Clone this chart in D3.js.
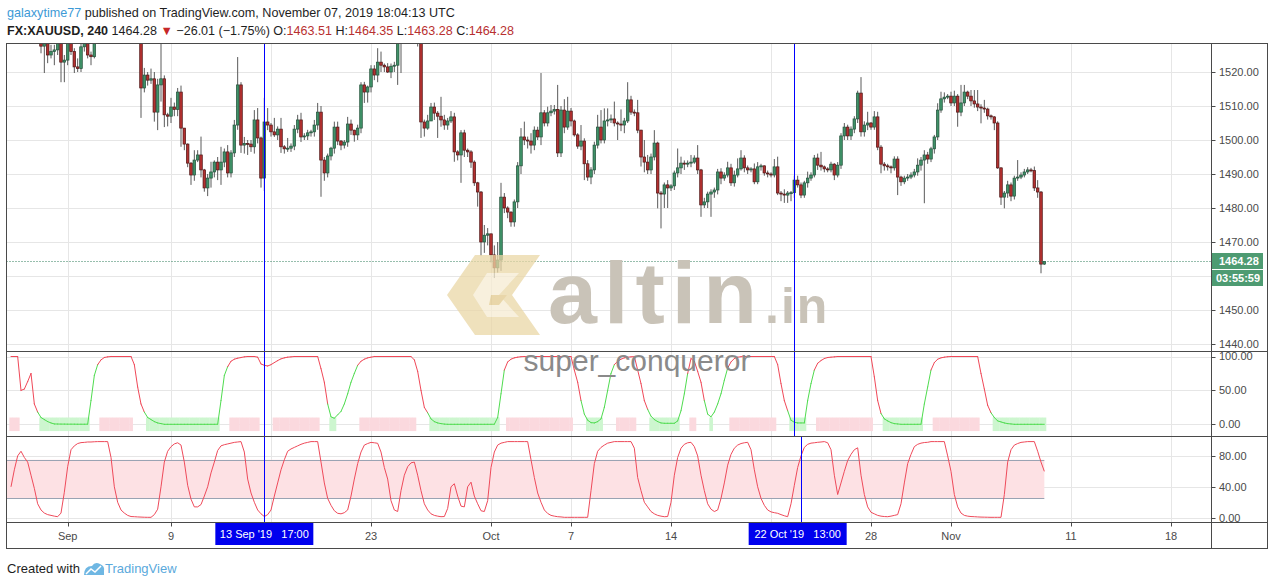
<!DOCTYPE html>
<html><head><meta charset="utf-8">
<script src="https://cdn.jsdelivr.net/npm/d3@7"></script>
<style>
html,body{margin:0;padding:0;background:#fff;}
svg{display:block;font-family:"Liberation Sans",Arial,sans-serif;}
</style></head><body>
<svg id="c" width="1274" height="586"></svg>
<script>
// ---------------- DATA ----------------
const firstOpen = 1543;
const closes = [1545,1542,1546,1543,1540,1538,1536,1534,1533,1527.6,1529,1525,1526,1526.5,1529,1522.9,1523.5,1530,1526,1521.5,
1521,1527.4,1530,1525,1524.5,1530,1535,1540,1546,1550,1548,1552,1550,1547,1545,1548,1544,1540,1537,1515.3,
1519.1,1517.6,1518,1508.2,1516.2,1518,1507.4,1507,1509.7,1509,1514.1,1503.5,1498.8,1493.2,1489.7,1494.1,1495.6,1491.2,1485.9,1488.8,
1490.6,1493.5,1491.2,1493.5,1496.5,1490.3,1496.2,1504.4,1516.2,1498.5,1499,1498.8,1498,1505.9,1500.6,1488.8,1505.3,1504.4,1502.4,1501.5,
1503.2,1498,1497.4,1497.6,1498.2,1503.2,1505.9,1500.9,1501.2,1502.1,1502.4,1504.4,1508.2,1494.1,1490.3,1495.3,1497.6,1503.8,1499.7,1498.5,
1499.4,1504.7,1502.9,1501.5,1503.5,1516.2,1514.1,1515.6,1520.9,1519.1,1522.9,1522,1521.5,1520,1521.7,1522,1529,1535,1533,1535,
1538,1534,1528.5,1505.3,1503.5,1505.6,1509.7,1507.9,1507,1505.9,1504.4,1505.6,1506.8,1496.5,1495.6,1502.1,1497,1496.5,1493.5,1487.4,
1484.7,1470,1472,1472.4,1466.2,1462.4,1464.7,1483.2,1480,1478.8,1475.9,1481.8,1492.4,1500.9,1500,1499.7,1498.5,1502.9,1500.9,1508,
1505,1508,1508.5,1509,1496.2,1508.8,1503.8,1508.5,1505.6,1501.5,1498.2,1499.7,1493,1489.1,1491.2,1498.5,1503.8,1500,1505.6,1505.9,
1506.2,1505,1504.7,1504.4,1505.6,1511.8,1508.2,1508,1502.9,1495,1493.5,1491.2,1495,1499.1,1484.4,1484.1,1486.8,1485.9,1486.5,1490.3,
1491.8,1493.2,1492.9,1493.2,1493.5,1494.7,1491.2,1480.9,1481.8,1484.1,1484.7,1485.3,1490.6,1488.8,1489.7,1491.8,1487.4,1489.7,1491.5,1494.7,
1491.8,1491.2,1491.5,1487.7,1492.1,1492.4,1490.3,1490,1489.7,1492.1,1484.4,1484.1,1483.8,1484.4,1484.5,1488.2,1486.8,1483.8,1487.4,1488.8,
1489.7,1494.7,1492.6,1492.1,1491.5,1491.2,1492.9,1489.7,1492.6,1501.2,1503.8,1501.2,1503.2,1506.2,1513.8,1502.4,1504.4,1505,1503.8,1506.8,
1497.9,1492.9,1492.4,1492.1,1491.8,1494.4,1489.1,1487.7,1488.8,1489.1,1489.7,1490.6,1492.6,1494.1,1495.6,1494.4,1497.4,1500.9,1508.8,1512.1,
1512.6,1512.9,1510.9,1512.9,1508.2,1510.9,1514.1,1512.9,1511.5,1510.6,1509.7,1509.4,1509.1,1507.1,1506.8,1505,1491.8,1483.2,1484.4,1486.8,
1483.5,1488.8,1489.1,1489.7,1490.6,1491.2,1491,1485.9,1484.7,1463.5,1464.28];
const highs = [1548,1547,1549,1548,1545,1543,1541,1538,1537,1533,1533,1530,1528,1528,1532,1531,1525,1533,1532,1527,
1524,1529,1534,1532,1526,1534,1538,1543,1549,1553,1552,1556,1555,1552,1549,1551,1549,1545,1542,1540,
1521.2,1520,1521,1520,1518,1531,1519,1508,1512.4,1511,1515.3,1516,1503.5,1499,1493.5,1497,1497,1501,1491.5,1490,
1493.6,1494,1495,1498,1497.5,1498.5,1497,1505.9,1524.4,1517,1500.9,1500,1500,1508.8,1509.4,1501,1512.4,1509.4,1505,1506.5,
1504,1506.5,1498.5,1500.6,1499,1504.4,1507.4,1508,1502,1503,1503,1505.9,1510.9,1510,1495,1496,1498,1505.4,1505.4,1500,
1500,1506.8,1506,1503,1504.5,1517,1517.1,1516,1522,1522,1527,1526,1522.5,1522.6,1522.5,1523,1532,1538,1536,1538,
1541,1539,1536,1531,1506,1507.4,1510.9,1511,1508.5,1512.7,1507.4,1506.5,1508.5,1508,1497,1502.9,1503,1497.5,1497,1494,
1487.7,1485,1475,1474.1,1471.5,1469,1470,1487.4,1484.4,1480.5,1479,1482.5,1493.5,1503.5,1505.4,1501,1502,1504,1503.9,1519.7,
1508.8,1509.8,1510.3,1510.3,1516.2,1510,1512,1512.7,1509.4,1506,1502,1504.4,1500.5,1494.1,1492,1499.5,1507.4,1508.8,1509.3,1509.3,
1507.5,1511.3,1505.5,1509,1506.5,1517,1513,1509,1511.8,1503,1500,1495.6,1496,1502.9,1499.5,1485,1487.5,1488.2,1487,1491,
1497.5,1495.1,1494,1494,1495.6,1495.5,1498.5,1491.5,1483,1484.8,1485.5,1486,1491.5,1491.7,1490.5,1493.6,1493,1491,1494.6,1497,
1495.5,1492.5,1492,1493.1,1493.5,1493,1492.5,1491,1490.5,1494.4,1495.1,1485,1485.5,1485,1485,1489.5,1489.5,1487.5,1488,1490.7,
1490.5,1495.6,1496,1496.5,1492.5,1492,1493.6,1493.2,1493.5,1502,1505,1504.5,1504,1507,1514.5,1518.5,1505.5,1508.3,1505.3,1508.5,
1508.3,1498.5,1493.5,1493,1492.5,1495.2,1495.2,1489.5,1489.5,1490,1490.5,1491.5,1494.6,1495,1497,1496.5,1498,1501.5,1510.8,1514.2,
1514,1513.5,1514.2,1514.5,1513.5,1516.2,1516.2,1514.5,1514.7,1514.7,1514.7,1510.5,1511.8,1509.5,1507.5,1507,1505.5,1492,1485,1488,
1487.5,1489.5,1494.1,1490.5,1491.5,1492,1491.8,1492.2,1488.2,1485,1464.35];
const lows = [1540,1539,1540,1538,1536,1535,1532,1531,1530.5,1525.5,1519.7,1522.6,1524,1522,1525,1517,1517,1522,1525,1519.7,
1520,1520,1526,1524,1522,1524,1529.5,1534,1539,1545,1545,1547,1546,1544,1542,1543,1541,1537,1534,1506.5,
1514,1516,1516.5,1505.4,1502.9,1511.3,1503.8,1504,1505,1507,1507,1498,1497,1492,1486.8,1488,1493.5,1489,1484.8,1483.5,
1486,1489,1488.2,1486.8,1492,1489,1489,1495,1503,1496.2,1496,1495.6,1496.5,1496,1499,1486,1485,1502.9,1501,1500.9,
1500,1496.2,1496,1496.5,1496.5,1497,1502,1499.4,1500,1500,1501,1501,1503,1483.3,1488,1489,1494,1496,1498.5,1497,
1497.5,1498,1501.5,1499.5,1500,1502,1510.9,1511,1514,1517.6,1517,1520,1520,1519.7,1518.2,1520,1516.2,1519.7,1530,1531,
1533,1531,1527.5,1500.6,1501,1503,1506,1505.9,1500.6,1503.9,1503,1503,1505,1493.6,1494,1487.4,1495,1495,1491.8,1486.5,
1480.4,1466,1466.8,1469,1464,1459.4,1461,1461.5,1478.5,1477,1474.5,1474.5,1480,1490,1498.5,1497.5,1496,1497,1500,1498.5,
1504,1504,1507,1507.5,1495,1495,1502,1503,1504,1501,1497.4,1497,1488.2,1488,1487,1490,1497.5,1499,1499,1504,
1505,1504,1500,1502.6,1502,1505,1507.4,1507,1502,1492.2,1490.5,1490,1490,1494,1479.9,1474,1480,1480,1485,1485.3,
1489,1490,1491.2,1492,1492,1493,1490,1477.4,1480,1480,1477.4,1483,1484,1487,1488,1489,1486.5,1486.3,1489,1491,
1490.5,1490,1490.5,1487,1487,1491,1489.5,1489,1489,1489,1483.8,1482,1481.5,1481.5,1482,1483,1486,1482.9,1483,1486,
1488,1489,1491.2,1491,1490.5,1490.5,1490.5,1488.2,1489,1491.5,1500,1500,1500,1502,1505,1501,1501,1502.9,1503,1503,
1497,1490.2,1491,1491,1490.2,1491,1483.8,1486.5,1487,1488,1488.5,1489,1489.5,1491,1481.4,1493,1493.5,1496,1500,1508,
1511,1512,1510,1510,1503.9,1507,1510,1512,1510,1509.5,1508.5,1504.9,1508,1506,1506,1502.9,1491.5,1480.9,1479.9,1483,
1482,1482.5,1488,1488.5,1489,1490,1490.5,1485,1483,1460.8,1463.28];

// upper indicator (0..100)
const osc1 = [100,100,100,50,52,63,75,30,18,10,7,4,2,0.5,0.4,0.3,0.3,0.2,0.2,0.2,0.1,0.1,0.1,0.2,35,72,88,95,98.5,99.5,
100,100,100,100,100,100,100,88,55,30,18,10,7,4,2,1,0,0,0,0,0,0,0,0,0,0,0,0,0,0,
0,0,0.1,35,72,85,93,96,97.5,98.5,99.5,100,100,100,99,89,87,86,88,91,94,96.5,98,99,99.5,100,100,100,100,100,
100,100,100,82,62,30,11,9,14,19,30,45,62,75,87,93,96,98,99,100,100,100,100,100,100,100,100,100,100,100,
100,95,78,50,25,17,8,4,2,1,0.3,0,0,0,0,0,0,0,0,0,0,0,0,0,0,0.1,10,45,80,92,
96,98,99,99.7,100,100,100,100,100,100,100,100,100,100,100,100,100,100,100,80,62,35,15,6,2.5,2,4,8,25,50,
75,88,93,96,98,99,99.5,100,80,60,35,22,12,7,4,2,1.5,1.5,1.5,1.5,5,20,45,75,97,93,78,62,35,15,
11,18,30,45,65,83,92,97,99,99.7,100,100,100,100,100,100,100,100,100,100,88,60,35,20,6,3,2,2,2,35,
60,80,90,94,97,98.5,99,99.5,100,100,100,100,100,100,100,100,100,100,100,70,35,16,8,5,2.5,1,0.5,0,0,0,
0,0,0,0.1,30,55,80,91,96,98,99,99.7,100,100,100,100,100,100,100,100,100,75,52,28,17,10,5,3.5,2,1,
0.5,0,0,0,0,0,0,0,0,0,0];

// lower indicator (0..100) with 25/75 band
const osc2 = [40,62,80,86,78,72,55,38,18,10,6,4,3,2,1.3,6,33,66,88,93,96,97.2,97.5,98,98,98.3,98.5,98.5,98.5,98.5,
78,40,20,10,6,3,1.5,1.3,1,0.8,0.6,0.5,0.5,4,11,40,72,86,92,95.5,97,94,72,42,24,14,14,17,28,40,
58,72,87,93,94.5,95.5,96.5,97.5,98,98.5,85,50,32,20,10,5,1.5,4,10,28,45,62,75,86,89,91,93,95,96.5,97.5,
98.5,98.5,98.5,72,45,25,16,9,5.7,5,6.5,10,28,50,70,85,94,96,97.5,97,96.3,85,65,50,22,10,8,35,55,66,
71,72,55,35,18,10,5,3,2,1.3,1.5,12,40,44,28,15,14,40,46,28,18,9,8,22,65,85,94,96.5,97.5,98.5,
98.5,98.5,98.5,98.5,98.5,98.5,75,52,32,20,10,5.5,3,2,1.3,1,0.5,0.5,0.5,0.5,0.5,0.5,0.5,0.5,35,70,86,91,94,96.5,
97.5,98.5,98.5,98.5,98.5,98.5,98.5,90,52,35,20,14,8,5,3,2,1.3,1.5,20,55,78,90,95,97,97.6,92,80,55,35,18,
11,8,10,25,45,68,82,90,94,96,97,97.6,88,62,40,25,16,10,7.5,6.5,5.7,4,2.5,1.3,18,42,65,80,91,95,
96.5,97,97.6,98,98.5,97,88,55,30,45,60,74,82,88,90.5,55,30,14,7,5,3,2,1.5,1.3,2,3,4,18,45,70,
82,92,95,96.5,97.3,97.6,98.5,98.5,98.5,98.5,98.5,80,60,30,14,6,3,2,1.5,1.3,1,0.8,0.7,0.6,0.5,0.5,0.5,0.5,30,72,
88,94,96,97.5,98,98.5,98.5,98.5,86,72,60];

const priceTicks = [1440,1450,1460,1470,1480,1490,1500,1510,1520];
const osc1Ticks = [0,50,100];
const osc2Ticks = [0,40,80];
const osc2Band = [25,75];
const timeTickIndex = [17,48,78,108,144,168,198,228,258,282,318,348];
const timeTickLabels = ["Sep","9","16","23","Oct","7","14","21","28","Nov","11","18"];
const markIndexMain = [76,235];
const markIndexLower = [76,237];
const markLabels = ["13 Sep '19   17:00","22 Oct '19   13:00"];
const lastPrice = 1464.28;
const countdown = "03:55:59";

// ---------------- LAYOUT ----------------
const svg = d3.select("#c");
const PL=6.5, PR=1211.5, OR=1267.5;
const mainT=43.5, mainB=351.5, i1B=436.5, i2B=522.5, axB=548.5;
const N = closes.length;
const opens = closes.map((c,i)=> i===0 ? firstOpen : closes[i-1]);

const x  = d3.scaleLinear().domain([0,360]).range([11,1211]);
const yP = d3.scaleLinear().domain([1440,1520]).range([344,72]);
const y1 = d3.scaleLinear().domain([0,100]).range([424.3,356.5]);
const y2 = d3.scaleLinear().domain([0,80]).range([517.7,455.9]);
const bw = x(1)-x(0);

const gridC="#e6e6e6", frameC="#4a4a4a", txtC="#4a4a4a", markC="#0000ff";

// grids
const g = svg.append("g");
g.selectAll("line.vg").data(timeTickIndex).join("line")
  .attr("x1",d=>Math.round(x(d))+0.5).attr("x2",d=>Math.round(x(d))+0.5)
  .attr("y1",mainT).attr("y2",i2B).attr("stroke",gridC);
g.selectAll("line.hp").data(priceTicks).join("line")
  .attr("x1",PL).attr("x2",PR).attr("y1",d=>Math.round(yP(d))+0.5).attr("y2",d=>Math.round(yP(d))+0.5).attr("stroke",gridC);
g.selectAll("line.h1").data(osc1Ticks).join("line")
  .attr("x1",PL).attr("x2",PR).attr("y1",d=>Math.round(y1(d))+0.5).attr("y2",d=>Math.round(y1(d))+0.5).attr("stroke",gridC);
g.selectAll("line.h2").data(osc2Ticks).join("line")
  .attr("x1",PL).attr("x2",PR).attr("y1",d=>Math.round(y2(d))+0.5).attr("y2",d=>Math.round(y2(d))+0.5).attr("stroke",gridC);

// clip paths
const defs = svg.append("defs");
defs.append("clipPath").attr("id","cm").append("rect").attr("x",PL).attr("y",mainT).attr("width",PR-PL).attr("height",mainB-mainT);
defs.append("clipPath").attr("id","c1").append("rect").attr("x",PL).attr("y",mainB).attr("width",PR-PL).attr("height",i1B-mainB);
defs.append("clipPath").attr("id","c2").append("rect").attr("x",PL).attr("y",i1B).attr("width",PR-PL).attr("height",i2B-i1B);

// ---------------- candles ----------------
const cg = svg.append("g").attr("clip-path","url(#cm)");
const idx = d3.range(N);
cg.selectAll("line.wick").data(idx).join("line")
  .attr("x1",i=>x(i)).attr("x2",i=>x(i))
  .attr("y1",i=>yP(Math.max(highs[i],opens[i],closes[i])))
  .attr("y2",i=>yP(Math.min(lows[i],opens[i],closes[i])))
  .attr("stroke","#5a5a5a").attr("stroke-width",1);
cg.selectAll("rect.body").data(idx).join("rect")
  .attr("x",i=>x(i)-1.3).attr("width",2.6)
  .attr("y",i=>yP(Math.max(opens[i],closes[i])))
  .attr("height",i=>Math.max(1,Math.abs(yP(opens[i])-yP(closes[i]))))
  .attr("fill",i=>closes[i]>=opens[i]?"#3f9168":"#b3302f")
  .attr("stroke",i=>closes[i]>=opens[i]?"#24513b":"#4d1616").attr("stroke-width",0.7);

// last price dotted line
svg.append("line").attr("x1",PL).attr("x2",PR).attr("y1",Math.round(yP(lastPrice))+0.5).attr("y2",Math.round(yP(lastPrice))+0.5)
  .attr("stroke","#2f7d5a").attr("stroke-dasharray","1,2");

// ---------------- oscillator 1 ----------------
const o1 = svg.append("g").attr("clip-path","url(#c1)");
let st = "red"; const state = osc1.map(v=>{ if(v>=90) st="red"; else if(v<=15) st="green"; return st; });
o1.selectAll("rect.band").data(idx.filter(i=>osc1[i]>=90||osc1[i]<=12)).join("rect")
  .attr("x",i=>x(i)-bw/2).attr("width",bw+0.3)
  .attr("y",y1(10)).attr("height",y1(-10)-y1(10))
  .attr("fill",i=>osc1[i]>=90?"#fbd9de":"#cdf6cf");
o1.selectAll("line.seg").data(idx.slice(1)).join("line")
  .attr("x1",i=>x(i-1)).attr("x2",i=>x(i)).attr("y1",i=>y1(osc1[i-1])).attr("y2",i=>y1(osc1[i]))
  .attr("stroke",i=>state[i]==="red"?"#f04858":"#4fdc4f").attr("stroke-width",1).attr("stroke-linecap","round");

// ---------------- oscillator 2 ----------------
const o2 = svg.append("g").attr("clip-path","url(#c2)");
o2.append("rect").attr("x",x(0)-4).attr("width",x(N-1)-x(0)+4)
  .attr("y",y2(osc2Band[1])).attr("height",y2(osc2Band[0])-y2(osc2Band[1])).attr("fill","#fde1e4");
o2.selectAll("line.band").data(osc2Band).join("line")
  .attr("x1",x(0)-4).attr("x2",x(N-1)).attr("y1",d=>Math.round(y2(d))+0.5).attr("y2",d=>Math.round(y2(d))+0.5)
  .attr("stroke","#9aa3b3");
o2.append("path").datum(osc2).attr("fill","none").attr("stroke","#ee4a5a").attr("stroke-width",1)
  .attr("d",d3.line().x((d,i)=>x(i)).y(d=>y2(d)));

// ---------------- watermark ----------------
const wm = svg.append("g");
const lg = wm.append("g").attr("transform","translate(447,255)").attr("opacity",0.75);
lg.append("path").attr("d","M28,0 L93,0 L65,40 L93,80 L28,80 L0,40 Z").attr("fill","#ead7a6");
lg.append("path").attr("d","M40,18 L72,18 L52,40 L72,62 L40,62 L26,40 Z").attr("fill","#f6ecd2");
lg.append("path").attr("d","M44,40 L60,40 L52,50 L42,50 Z").attr("fill","#e2c98d");
wm.append("text").attr("x",548).attr("y",323).attr("font-size",88).attr("font-weight","bold")
  .attr("fill","#c9c3b8").attr("letter-spacing",7).text("altin");
wm.append("text").attr("x",765).attr("y",323).attr("font-size",50).attr("font-weight","bold")
  .attr("fill","#c9c3b8").attr("letter-spacing",2).text(".in");
wm.append("text").attr("x",637).attr("y",371).attr("text-anchor","middle").attr("font-size",30)
  .attr("fill","#8a8a8a").text("super_conqueror");

// ---------------- crosshair marks ----------------
markIndexMain.forEach(i=>{
  svg.append("line").attr("x1",Math.round(x(i))+0.5).attr("x2",Math.round(x(i))+0.5).attr("y1",mainT).attr("y2",i1B).attr("stroke",markC);
});
markIndexLower.forEach(i=>{
  svg.append("line").attr("x1",Math.round(x(i))+0.5).attr("x2",Math.round(x(i))+0.5).attr("y1",i1B).attr("y2",i2B).attr("stroke",markC);
});

// ---------------- frames ----------------
const fr = svg.append("g").attr("stroke",frameC).attr("fill","none");
fr.append("rect").attr("x",PL).attr("y",mainT).attr("width",OR-PL).attr("height",axB-mainT);
[mainB,i1B,i2B].forEach(yy=>fr.append("line").attr("x1",PL).attr("x2",OR).attr("y1",yy).attr("y2",yy));
fr.append("line").attr("x1",PR).attr("x2",PR).attr("y1",mainT).attr("y2",axB);

// ---------------- right axes ----------------
const lpY = Math.round(yP(lastPrice));
function axisLabels(ticks,scale,fmt,hide){
  const a = svg.append("g");
  a.selectAll("line").data(ticks).join("line").attr("x1",PR).attr("x2",PR+4)
    .attr("y1",d=>Math.round(scale(d))+0.5).attr("y2",d=>Math.round(scale(d))+0.5).attr("stroke",frameC);
  a.selectAll("text").data(ticks.filter(d=>!hide||!hide(scale(d)))).join("text").attr("x",1219).attr("y",d=>scale(d)).attr("dy","0.35em")
    .attr("font-size",11).attr("fill",txtC).text(fmt);
}
// labels covered by the last-price / countdown boxes are not shown
axisLabels(priceTicks,yP,d=>d3.format(".2f")(d),yy=>yy>lpY-14&&yy<lpY+31);
axisLabels(osc1Ticks,y1,d=>d3.format(".2f")(d));
axisLabels(osc2Ticks,y2,d=>d3.format(".2f")(d));

// price + countdown labels
svg.append("rect").attr("x",PR+0.5).attr("y",lpY-8).attr("width",51).attr("height",16).attr("fill","#4e9b72");
svg.append("text").attr("x",1219).attr("y",lpY).attr("dy","0.35em").attr("font-size",11).attr("font-weight","bold")
  .attr("fill","#fff").text(d3.format(".2f")(lastPrice));
svg.append("rect").attr("x",PR+0.5).attr("y",lpY+9).attr("width",51).attr("height",16).attr("fill","#4e9b72");
svg.append("text").attr("x",1216).attr("y",lpY+17).attr("dy","0.35em").attr("font-size",11).attr("font-weight","bold")
  .attr("fill","#fff").text(countdown);

// ---------------- time axis ----------------
const boxCx = markLabels.map((l,k)=>(x(markIndexMain[k])+x(markIndexLower[k]))/2);
const covered = d=>boxCx.some(c=>Math.abs(x(d)-c)<60);
const ta = svg.append("g");
ta.selectAll("line").data(timeTickIndex).join("line")
  .attr("x1",d=>Math.round(x(d))+0.5).attr("x2",d=>Math.round(x(d))+0.5).attr("y1",i2B).attr("y2",i2B+4).attr("stroke",frameC);
ta.selectAll("text").data(timeTickIndex.map((d,i)=>[d,timeTickLabels[i]]).filter(p=>!covered(p[0]))).join("text")
  .attr("x",p=>x(p[0])).attr("y",536).attr("dy","0.35em").attr("text-anchor","middle")
  .attr("font-size",11).attr("fill",txtC).text(p=>p[1]);
markLabels.forEach((lab,k)=>{
  const cx = boxCx[k];
  svg.append("rect").attr("x",cx-49).attr("y",i2B+0.5).attr("width",98).attr("height",22).attr("fill","#0000ee");
  svg.append("text").attr("x",cx).attr("y",534).attr("dy","0.35em").attr("text-anchor","middle")
    .attr("font-size",11).attr("fill","#fff").style("white-space","pre").text(lab);
});

// ---------------- header ----------------
const h1 = svg.append("text").attr("x",7).attr("y",17).attr("font-size",12.6);
h1.append("tspan").attr("fill","#3d9ad6").text("galaxytime77");
h1.append("tspan").attr("fill","#1e1e1e").text(" published on TradingView.com, November 07, 2019 18:04:13 UTC");
const h2 = svg.append("text").attr("x",7).attr("y",35).attr("font-size",12.55).attr("fill","#1e1e1e");
h2.append("tspan").attr("font-weight","bold").text("FX:XAUUSD, 240");
h2.append("tspan").text(" 1464.28 ");
h2.append("tspan").attr("fill","#c62828").text("▼");
h2.append("tspan").text(" −26.01 (−1.75%) ");
[["O:","1463.51"],["H:","1464.35"],["L:","1463.28"],["C:","1464.28"]].forEach(([k,v],j)=>{
  h2.append("tspan").text((j?" ":"")+k);
  h2.append("tspan").attr("fill","#b83030").text(v);
});

// ---------------- footer ----------------
const ft = svg.append("g");
ft.append("text").attr("x",7).attr("y",573).attr("font-size",13).attr("fill","#1e1e1e").text("Created with");
ft.append("path").attr("d","M84,575 Q84,566 92,566 Q95,561 100,564 Q105,566 104,571 L104,575 Z").attr("fill","#6fb7e3");
ft.append("path").attr("d","M86,574 L91,569 L95,572 L101,566").attr("stroke","#fff").attr("stroke-width",1.5).attr("fill","none");
ft.append("text").attr("x",105).attr("y",573).attr("font-size",13).attr("fill","#5aa9dc").text("TradingView");
</script>
</body></html>
